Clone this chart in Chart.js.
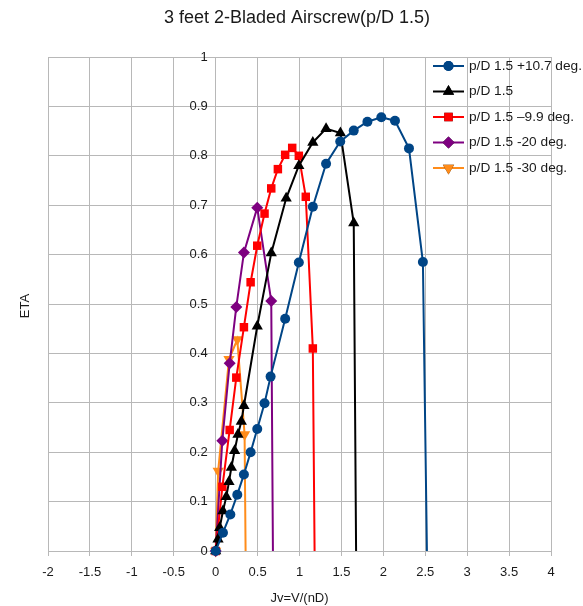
<!DOCTYPE html>
<html>
<head>
<meta charset="utf-8">
<script src="https://cdn.jsdelivr.net/npm/chart.js@4/dist/chart.umd.min.js"></script>
<style>
  body { margin: 0; background: #fff; }
  canvas { display: block; }
</style>
</head>
<body>
<canvas id="eta" width="583" height="606"></canvas>
<script>
// advance ratio Jv and efficiency ETA for each blade setting
const jvPlus107 = [0, 0.087, 0.175, 0.258, 0.337, 0.417, 0.496, 0.583, 0.655, 0.829, 0.992, 1.159, 1.317, 1.486, 1.647, 1.81, 1.976, 2.139, 2.306, 2.472, 2.52];
const etaPlus107 = [0, 0.037, 0.074, 0.114, 0.155, 0.2, 0.247, 0.299, 0.353, 0.47, 0.584, 0.697, 0.784, 0.829, 0.851, 0.869, 0.878, 0.871, 0.815, 0.585, 0];

const jvBase = [0, 0.028, 0.048, 0.087, 0.127, 0.159, 0.187, 0.226, 0.266, 0.306, 0.337, 0.496, 0.663, 0.841, 0.992, 1.159, 1.317, 1.488, 1.647, 1.675];
const etaBase = [0, 0.024, 0.047, 0.081, 0.11, 0.14, 0.169, 0.203, 0.236, 0.262, 0.294, 0.455, 0.603, 0.714, 0.78, 0.827, 0.855, 0.846, 0.664, 0];

const jvMinus99 = [0, 0.08, 0.167, 0.246, 0.337, 0.417, 0.496, 0.583, 0.663, 0.742, 0.829, 0.913, 0.992, 1.075, 1.159, 1.18];
const etaMinus99 = [0, 0.13, 0.245, 0.351, 0.453, 0.544, 0.618, 0.683, 0.734, 0.773, 0.802, 0.816, 0.8, 0.717, 0.41, 0];

const jvMinus20 = [0, 0.079, 0.167, 0.246, 0.337, 0.496, 0.663, 0.683];
const etaMinus20 = [0, 0.223, 0.38, 0.494, 0.604, 0.695, 0.506, 0];

const jvMinus30 = [0, 0.03, 0.159, 0.258, 0.345, 0.357];
const etaMinus30 = [0, 0.162, 0.388, 0.428, 0.236, 0];

const seriesNames = ['p/D 1.5 +10.7 deg.', 'p/D 1.5', 'p/D 1.5 \u20139.9 deg.', 'p/D 1.5 -20 deg.', 'p/D 1.5 -30 deg.'];

const FONT = "'Liberation Sans', Arial, sans-serif";

function toPoints(xs, ys) {
    return xs.map((x, i) => ({ x: x, y: ys[i] }));
}

// last point of each curve is where it drops to zero, drawn without a marker
function radii(n, r) {
    const out = new Array(n).fill(r);
    out[n - 1] = 0;
    return out;
}

function fmt(v) {
    return String(Number(v.toFixed(1)));
}

const styles = [
    { color: '#004586', shape: 'circle', r: 5, rot: 0 },
    { color: '#000000', shape: 'triangle', r: 6.5, rot: 0 },
    { color: '#ff0000', shape: 'rect', r: 6, rot: 0 },
    { color: '#7e0080', shape: 'rectRot', r: 6, rot: 0 },
    { color: '#ff8c1a', shape: 'triangle', r: 6.5, rot: 180 }
];

const seriesData = [
    toPoints(jvPlus107, etaPlus107),
    toPoints(jvBase, etaBase),
    toPoints(jvMinus99, etaMinus99),
    toPoints(jvMinus20, etaMinus20),
    toPoints(jvMinus30, etaMinus30)
];

const datasets = seriesData.map((pts, i) => ({
    label: seriesNames[i],
    data: pts,
    showLine: true,
    borderColor: styles[i].color,
    backgroundColor: styles[i].color,
    borderWidth: 2,
    pointStyle: styles[i].shape,
    pointRotation: styles[i].rot,
    pointRadius: radii(pts.length, styles[i].r),
    pointBorderWidth: 0,
    tension: 0,
    clip: false
}));

// y tick labels sit just left of the Jv = 0 line
const yLabels = {
    id: 'yLabels',
    beforeDatasetsDraw(chart) {
        const ctx = chart.ctx;
        const ys = chart.scales.y;
        const x0 = chart.scales.x.getPixelForValue(0);
        ctx.save();
        ctx.font = '13px ' + FONT;
        ctx.fillStyle = '#1a1a1a';
        ctx.textAlign = 'right';
        ctx.textBaseline = 'middle';
        ys.ticks.forEach((t) => {
            ctx.fillText(fmt(t.value), x0 - 8, ys.getPixelForValue(t.value));
        });
        ctx.restore();
    }
};

// legend sits on top of the plot grid, right side
const legendPlugin = {
    id: 'sideLegend',
    afterDraw(chart) {
        const ctx = chart.ctx;
        ctx.save();
        ctx.font = '13.7px ' + FONT;
        ctx.textBaseline = 'middle';
        ctx.textAlign = 'left';
        styles.forEach((s, i) => {
            const y = 66 + i * 25.5;
            ctx.strokeStyle = s.color;
            ctx.lineWidth = 2;
            ctx.beginPath();
            ctx.moveTo(433, y);
            ctx.lineTo(464, y);
            ctx.stroke();
            Chart.helpers.drawPoint(ctx, {
                pointStyle: s.shape,
                radius: s.r,
                rotation: s.rot,
                borderWidth: 0
            }, 448.5, y);
            ctx.fillStyle = s.color;
            ctx.fill();
            ctx.fillStyle = '#1a1a1a';
            ctx.fillText(seriesNames[i], 469, y);
        });
        ctx.restore();
    }
};

// chart title and the vertical axis caption at the left edge
const captions = {
    id: 'captions',
    afterDraw(chart) {
        const ctx = chart.ctx;
        ctx.save();
        ctx.fillStyle = '#1a1a1a';
        ctx.textAlign = 'center';
        ctx.textBaseline = 'middle';
        ctx.font = '18px ' + FONT;
        ctx.fillText('3 feet 2-Bladed Airscrew(p/D 1.5)', 297, 18);
        ctx.font = '13px ' + FONT;
        ctx.translate(25, 306);
        ctx.rotate(-Math.PI / 2);
        ctx.fillText('ETA', 0, 0);
        ctx.restore();
    }
};

const gridColor = '#b8b8b8';
const tickFont = { family: FONT, size: 13 };

new Chart(document.getElementById('eta'), {
    type: 'scatter',
    data: { datasets: datasets },
    plugins: [yLabels, legendPlugin, captions],
    options: {
        responsive: false,
        animation: false,
        layout: { padding: { top: 57, right: 32, left: 48, bottom: 0 } },
        plugins: {
            legend: { display: false },
            tooltip: { enabled: false }
        },
        scales: {
            x: {
                type: 'linear',
                min: -2,
                max: 4,
                afterFit: (scale) => { scale.height = 55; },
                ticks: {
                    stepSize: 0.5,
                    color: '#1a1a1a',
                    font: tickFont,
                    padding: 9,
                    maxRotation: 0,
                    callback: (v) => fmt(v)
                },
                grid: { color: gridColor, tickLength: 5 },
                border: { color: gridColor },
                title: {
                    display: true,
                    text: 'Jv=V/(nD)',
                    color: '#1a1a1a',
                    font: tickFont,
                    padding: { top: 0, bottom: 0 }
                }
            },
            y: {
                type: 'linear',
                position: { x: 0 },
                min: 0,
                max: 1,
                ticks: {
                    stepSize: 0.1,
                    display: false
                },
                grid: { color: gridColor, tickLength: 5 },
                border: { color: gridColor }
            }
        }
    }
});
</script>
</body>
</html>
